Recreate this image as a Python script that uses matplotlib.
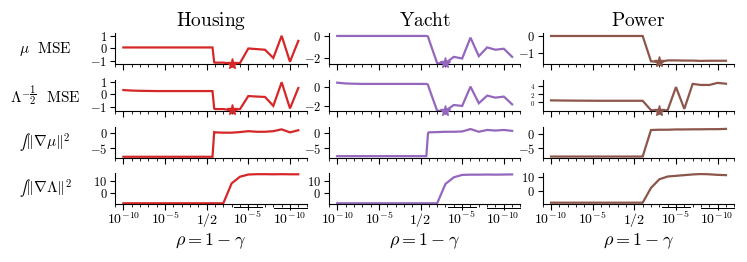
import numpy as np
import matplotlib
matplotlib.use('Agg')
import matplotlib.pyplot as plt
from matplotlib.ticker import FuncFormatter, MultipleLocator

plt.rcParams['mathtext.fontset'] = 'cm'
plt.rcParams['font.family'] = ['DejaVu Serif']

# --- DATA ---
# x positions: -10..-1 -> 10^-10..10^-1, 0 -> 1/2, positive side -> 1 - 10^-k
x_pos = [-10, -9, -8, -7, -6, -5, -4, -3, -2, -1, 0, 0.7, 0.9,
         1, 2, 3, 4, 5, 6, 7, 8, 9, 10, 11]
star_x = 3

datasets = ['Housing', 'Yacht', 'Power']
colors = ['#d62728', '#9467bd', '#8c564b']
row_labels = [r'$\mu\ \ \mathrm{MSE}$',
              r'$\Lambda^{-\dfrac{1}{2}}\ \ \mathrm{MSE}$',
              '∫' + r'$\|\nabla\mu\|^2$',
              '∫' + r'$\|\nabla\Lambda\|^2$']

xtick_pos = [-10, -5, 0, 5, 10]
xtick_labels = [r'$10^{-10}$', r'$10^{-5}$', r'$1/2$',
                r'$\overline{10^{-5}}$', r'$\overline{10^{-10}}$']

# Housing
housing_mu_mse = [0.08] * 12 + [-1.1, -1.12, -1.12, -1.2, -1.15, 0.0,
                                -0.05, -0.1, -0.75, 1.0, -1.05, 0.6]
housing_lam_mse = [0.34, 0.3, 0.28, 0.27, 0.26, 0.26, 0.26, 0.26, 0.26, 0.26,
                   0.26, 0.26, -1.1, -1.15, -1.15, -1.25, -1.15, -0.13,
                   -0.17, -0.2, -0.9, 0.95, -1.1, 0.5]
housing_grad_mu = [-7.8] * 12 + [0.4, 0.3, 0.2, 0.2, 0.4, 0.7,
                                 0.5, 0.5, 0.7, 1.3, 0.3, 1.0]
housing_grad_lam = [-8.6] * 15 + [8.0, 13.5, 15.3, 15.6, 15.6,
                                  15.5, 15.6, 15.5, 15.5]

# Yacht
yacht_mu_mse = [0.0] * 12 + [-0.05, -0.3, -2.45, -2.45, -1.88, -2.03,
                             -0.15, -1.82, -1.03, -1.24, -1.15, -1.88]
yacht_lam_mse = [0.41, 0.33, 0.3, 0.28, 0.28, 0.28, 0.28, 0.28, 0.28, 0.28,
                 0.28, 0.28, 0.2, -0.1, -2.5, -2.5, -1.9, -2.0,
                 0.0, -1.72, -0.93, -1.14, -1.03, -1.83]
yacht_grad_mu = [-7.6] * 12 + [0.0, 0.3, 0.4, 0.5, 0.5, 0.6,
                               1.4, 0.5, 1.1, 0.9, 1.1, 0.8]
yacht_grad_lam = [-8.6] * 15 + [7.5, 13.0, 15.0, 15.2, 15.2,
                                15.3, 15.2, 15.3, 15.4]

# Power
power_mu_mse = [0.0] * 14 + [-1.5, -1.55, -1.45, -1.45, -1.46, -1.46,
                             -1.48, -1.47, -1.47, -1.47]
power_lam_mse = [0.5, 0.47, 0.45, 0.43, 0.42, 0.41, 0.4, 0.4, 0.4, 0.4,
                 0.4, 0.4, 0.4, 0.4, -1.85, -1.95, -1.85, 3.7,
                 -1.55, 4.45, 4.2, 4.2, 4.7, 4.5]
power_grad_mu = [-8.0] * 14 + [1.5, 1.6, 1.6, 1.7, 1.7, 1.75,
                               1.75, 1.8, 1.8, 1.9]
power_grad_lam = [-8.2] * 14 + [2.5, 8.7, 10.7, 11.2, 11.7, 12.2,
                                12.5, 12.3, 11.9, 11.7]

series = [
    [housing_mu_mse, housing_lam_mse, housing_grad_mu, housing_grad_lam],
    [yacht_mu_mse, yacht_lam_mse, yacht_grad_mu, yacht_grad_lam],
    [power_mu_mse, power_lam_mse, power_grad_mu, power_grad_lam],
]

# y ticks and limits per panel (row, col)
yticks = [
    [[-1, 0, 1], [-2, 0], [-1, 0]],
    [[-1, 0, 1], [-2, 0], [0, 2, 4]],
    [[-5, 0], [-5, 0], [-5, 0]],
    [[0, 10], [0, 10], [0, 10]],
]
ylims = [
    [(-1.25, 1.2), (-2.55, 0.24), (-1.68, 0.16)],
    [(-1.3, 1.13), (-2.52, 0.69), (-2.05, 5.4)],
    [(-8.1, 2.2), (-8.1, 2.2), (-8.4, 2.7)],
    [(-9.5, 16.3), (-9.5, 16.3), (-9.4, 13.0)],
]

# --- PLOT ---
fig, axes = plt.subplots(4, 3, figsize=(7.47, 2.62), dpi=100)
fig.subplots_adjust(left=0.154, right=0.983, bottom=0.22, top=0.873,
                    wspace=0.116, hspace=0.505)

math_fmt = FuncFormatter(lambda v, p: f'${v:g}$')

for c in range(3):
    for r in range(4):
        ax = axes[r, c]
        y = series[c][r]
        ax.plot(x_pos, y, color=colors[c], lw=1.6, solid_joinstyle='miter')
        if r < 2:
            ax.plot(star_x, y[x_pos.index(star_x)], marker='*', ms=8,
                    color=colors[c], clip_on=False, zorder=5)

        ax.set_xlim(-11, 12)
        ax.set_ylim(*ylims[r][c])
        ax.set_yticks(yticks[r][c])
        ax.yaxis.set_major_formatter(math_fmt)
        ax.set_xticks(xtick_pos)
        ax.xaxis.set_minor_locator(MultipleLocator(1))

        ax.spines['top'].set_visible(False)
        ax.spines['right'].set_visible(False)
        # baseline alignment so the overlined labels line up with the rest
        ax.tick_params(axis='x', which='major', length=4, labelsize=10, pad=10)
        ax.tick_params(axis='x', which='minor', length=2.5)
        ax.tick_params(axis='y', length=3.5, labelsize=9, pad=2)
        if r == 1 and c == 2:
            ax.tick_params(axis='y', labelsize=5)

        if r == 3:
            ax.set_xticklabels(xtick_labels, va='baseline')
            ax.set_xlabel(r'$\rho = 1 - \gamma$', fontsize=13, labelpad=2)
        else:
            ax.set_xticklabels([])

        if r == 0:
            ax.set_title(r'$\mathrm{' + datasets[c] + '}$', fontsize=14, pad=5)
        if c == 0:
            fam = 'STIXGeneral' if r >= 2 else 'DejaVu Serif'
            ax.set_ylabel(row_labels[r], fontsize=11, rotation=0,
                          ha='center', va='center', family=fam)
            ax.yaxis.set_label_coords(-0.365, 0.5)

plt.savefig('out.png', dpi=100)
